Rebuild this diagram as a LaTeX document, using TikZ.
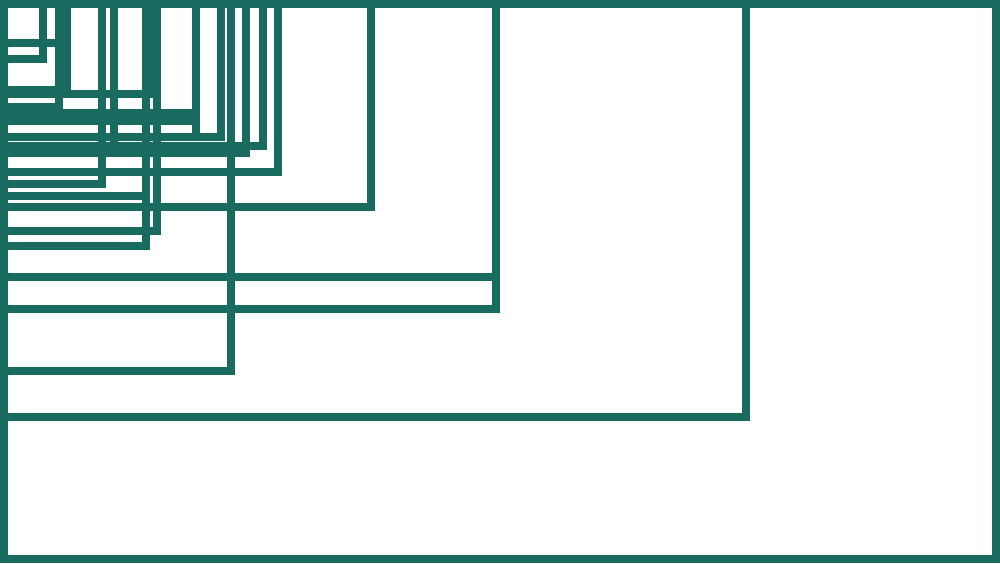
\documentclass[tikz,border=0pt]{standalone}
\usepackage{xcolor}
\definecolor{boxgreen}{RGB}{25,107,96}
\tikzset{
	frame/.style={
		draw=boxgreen, line width=8pt, line join=miter
	}
}
\begin{document}
\begin{tikzpicture}[x=1pt,y=-1pt]
	\useasboundingbox (0,0) rectangle (1000,563);
	% every frame shares the top left corner
	\foreach \w/\h in {1000/563, 750/421, 500/313, 500/281, 375/211, 235/375,
		282/176, 267/150, 250/157, 225/141, 200/141, 200/125, 200/117,
		161/235, 150/250, 150/200, 157/98, 118/150, 106/188,
		71/94, 63/111, 63/47, 47/63}
		\draw[frame] (4,4) rectangle (\w-4,\h-4);
\end{tikzpicture}
\end{document}
